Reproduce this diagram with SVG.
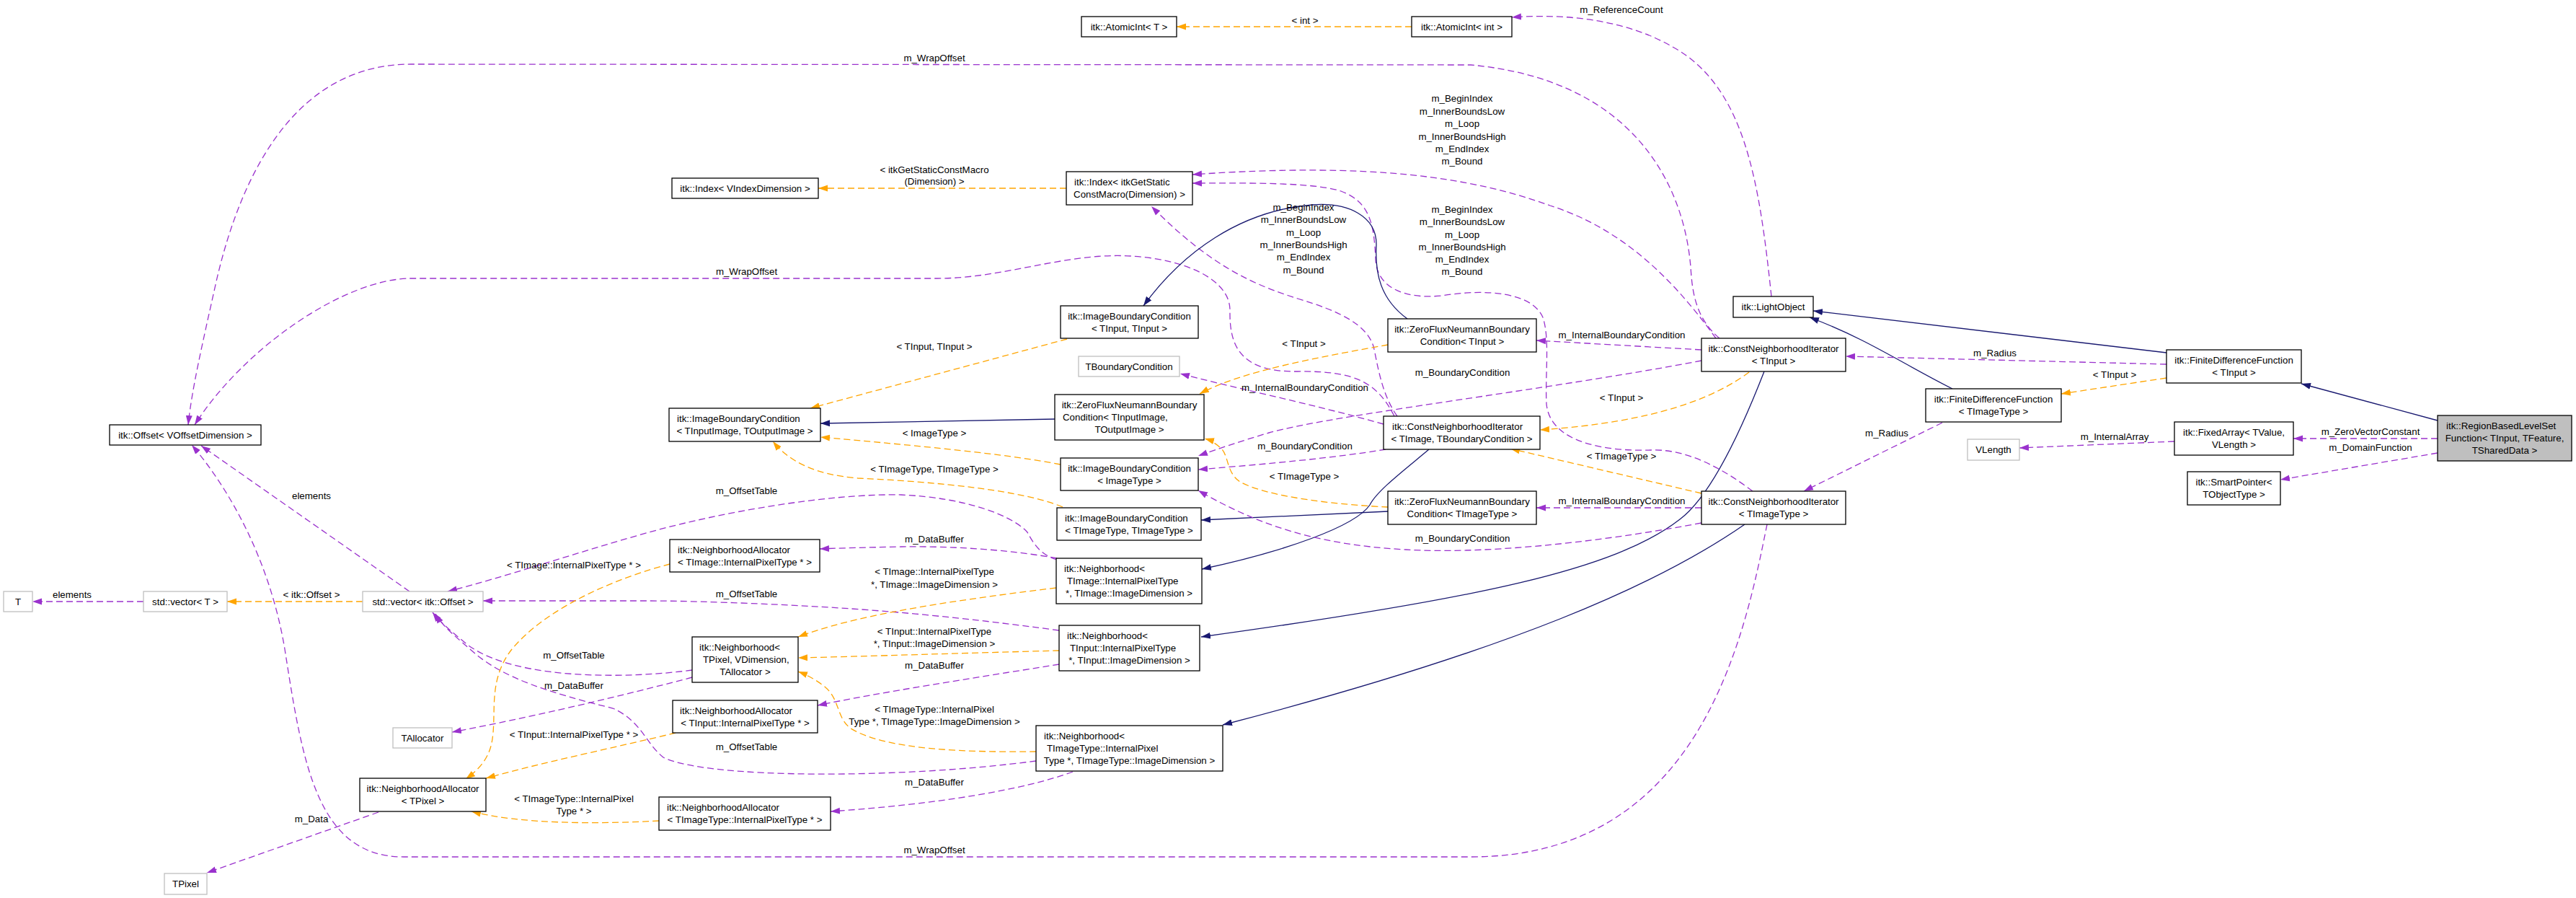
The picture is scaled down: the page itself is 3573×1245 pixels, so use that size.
<svg xmlns="http://www.w3.org/2000/svg" width="3573" height="1245" viewBox="0 0 3573 1245">
<defs>
<style>
text{font-family:"Liberation Sans",Arial,sans-serif;font-size:13.3px;fill:#000}
.c{text-anchor:middle}
.n rect{fill:#fff;stroke:#000;stroke-width:1.3}
.g rect{fill:#fff;stroke:#bfbfbf;stroke-width:1.3}
.hl rect{fill:#bfbfbf}
.e path{fill:none;stroke-width:1.3}
.p{stroke:#9a32cd;stroke-dasharray:9 5;marker-end:url(#ap)}
.o{stroke:#ffa500;stroke-dasharray:9 5;marker-end:url(#ao)}
.b{stroke:#191970;marker-end:url(#ab)}
</style>
<marker id="ap" markerWidth="14" markerHeight="10" refX="13" refY="5" orient="auto" markerUnits="userSpaceOnUse"><path d="M0,0.5 L13,5 L0,9.5z" fill="#9a32cd"/></marker>
<marker id="ao" markerWidth="14" markerHeight="10" refX="13" refY="5" orient="auto" markerUnits="userSpaceOnUse"><path d="M0,0.5 L13,5 L0,9.5z" fill="#ffa500"/></marker>
<marker id="ab" markerWidth="14" markerHeight="10" refX="13" refY="5" orient="auto" markerUnits="userSpaceOnUse"><path d="M0,0.5 L13,5 L0,9.5z" fill="#191970"/></marker>
</defs>
<rect width="3573" height="1245" fill="#fff"/>
<g id="connectors" class="e">
<path class="o" d="M1958,37 L1632,37"/>
<path class="p" d="M2457,411 C2440,250 2420,120 2320,65 C2260,30 2180,18 2097,24"/>
<path class="p" d="M2385,469 C2350,440 2347,400 2345,370 C2335,250 2260,110 2040,90 L570,89 C400,89 330,260 300,390 C280,480 266,540 261,589"/>
<path class="p" d="M1934,577 C1910,530 1880,514 1800,515 C1720,516 1705,480 1706,430 C1706,380 1620,350 1530,355 C1450,360 1380,386 1300,386 L570,386 C480,386 340,480 270,589"/>
<path class="p" d="M2451,727 C2420,880 2360,1188 2040,1188 L560,1188 C440,1188 420,1060 395,900 C375,780 320,680 266,617"/>
<path class="p" d="M568,820 L279,618"/>
<path class="o" d="M503,834 L315,834"/>
<path class="p" d="M199,834 L45,834"/>
<path class="p" d="M525,1126 L287,1210"/>
<path class="p" d="M960,929 C880,940 720,945 650,895 C625,875 610,862 600,849"/>
<path class="p" d="M960,939 C900,955 760,990 627,1015"/>
<path class="p" d="M1437,1055 C1250,1080 980,1080 920,1050 C895,1030 890,1000 850,982 C760,960 700,940 660,907 C635,885 615,870 604,851"/>
<path class="p" d="M1466,776 C1440,768 1432,750 1425,738 C1405,715 1340,690 1250,686 C1150,684 1000,710 900,738 C800,766 700,800 621,820"/>
<path class="p" d="M1469,874 C1350,858 1250,848 1150,842 C1050,836 950,833 900,833 L670,833"/>
<path class="o" d="M929,782 C860,800 760,840 710,900 C675,945 690,990 682,1030 C677,1055 660,1070 646,1080"/>
<path class="o" d="M937,1016 C860,1035 760,1055 674,1079"/>
<path class="o" d="M914,1138 C820,1143 720,1142 654,1125"/>
<path class="o" d="M1465,815 C1300,835 1180,855 1107,883"/>
<path class="o" d="M1469,902 C1350,905 1200,910 1107,912"/>
<path class="o" d="M1437,1042 C1340,1043 1230,1040 1180,1010 C1160,995 1165,970 1145,953 C1133,943 1120,936 1107,931"/>
<path class="p" d="M1466,774 C1400,762 1320,757 1250,758 C1200,759 1160,760 1137,761"/>
<path class="p" d="M1469,921 C1350,940 1220,960 1134,978"/>
<path class="p" d="M1488,1070 C1420,1095 1300,1115 1152,1125"/>
<path class="o" d="M1479,261 L1135,261"/>
<path class="p" d="M2380,469 C2330,400 2260,320 2150,285 C2040,245 1900,225 1654,242"/>
<path class="p" d="M2431,681 C2390,650 2340,622 2290,624 C2230,626 2150,615 2145,560 C2143,520 2150,470 2140,440 C2125,405 2060,400 2000,410 C1950,415 1910,400 1908,360 C1906,310 1900,280 1860,265 C1820,252 1720,254 1654,254"/>
<path class="p" d="M1938,577 C1915,545 1910,500 1905,480 C1895,450 1860,432 1800,414 C1740,395 1680,370 1597,286"/>
<path class="b" d="M1952,442 C1915,415 1907,380 1909,340 C1910,300 1870,280 1820,284 C1720,292 1640,350 1586,424"/>
<path class="b" d="M1463,581 L1138,587"/>
<path class="b" d="M1925,709 L1666,721"/>
<path class="b" d="M1982,623 C1950,650 1910,680 1900,700 C1880,730 1780,765 1667,789"/>
<path class="b" d="M2447,515 C2410,610 2370,690 2330,720 C2240,790 2050,830 1666,883"/>
<path class="b" d="M2420,727 C2300,810 2100,900 1696,1005"/>
<path class="b" d="M3005,489 L2515,431"/>
<path class="b" d="M2708,539 C2640,505 2590,470 2510,440"/>
<path class="b" d="M3381,583 L3192,532"/>
<path class="o" d="M1925,478 C1830,495 1720,515 1664,546"/>
<path class="o" d="M1925,703 C1860,700 1760,690 1720,668 C1700,655 1705,630 1692,620 C1685,614 1678,610 1671,608"/>
<path class="o" d="M1480,470 L1124,566"/>
<path class="o" d="M1471,644 C1410,632 1320,622 1138,606"/>
<path class="o" d="M1474,703 C1420,680 1300,668 1190,663 C1130,658 1095,640 1072,612"/>
<path class="o" d="M2426,516 C2380,550 2300,585 2136,596"/>
<path class="o" d="M2360,684 L2095,622"/>
<path class="o" d="M3005,524 L2859,546"/>
<path class="p" d="M2360,485 L2131,472"/>
<path class="p" d="M2360,500 C2150,540 1850,575 1760,600 C1720,612 1690,622 1662,632"/>
<path class="p" d="M1919,588 C1820,560 1700,535 1637,518"/>
<path class="p" d="M1922,623 C1850,635 1760,643 1662,651"/>
<path class="p" d="M2360,725 C2200,755 2050,768 1950,762 C1820,755 1740,725 1662,680"/>
<path class="p" d="M2360,704 L2131,704"/>
<path class="p" d="M3005,505 L2560,494"/>
<path class="p" d="M2694,586 L2502,681"/>
<path class="p" d="M3381,608 L3181,608"/>
<path class="p" d="M3381,628 L3163,665"/>
<path class="p" d="M3016,612 L2801,621"/>
<g class="c">
<text x="1810" y="32.5">&lt; int &gt;</text>
<text x="2249" y="17.5">m_ReferenceCount</text>
<text x="1296" y="84.5">m_WrapOffset</text>
<text x="1035.5" y="380.5">m_WrapOffset</text>
<text x="1296" y="1182.5">m_WrapOffset</text>
<text x="432" y="691.5">elements</text>
<text x="432" y="828.5">&lt; itk::Offset &gt;</text>
<text x="100" y="828.5">elements</text>
<text x="432" y="1139.5">m_Data</text>
<text x="796" y="913">m_OffsetTable</text>
<text x="796" y="955">m_DataBuffer</text>
<text x="1035.5" y="1040">m_OffsetTable</text>
<text x="1035.5" y="685">m_OffsetTable</text>
<text x="1035.5" y="828">m_OffsetTable</text>
<text x="796" y="788">&lt; TImage::InternalPixelType * &gt;</text>
<text x="796" y="1023">&lt; TInput::InternalPixelType * &gt;</text>
<text x="796" y="1111.5">&lt; TImageType::InternalPixel</text>
<text x="796" y="1129">Type * &gt;</text>
<text x="1296" y="797">&lt; TImage::InternalPixelType</text>
<text x="1296" y="815">*, TImage::ImageDimension &gt;</text>
<text x="1296" y="880">&lt; TInput::InternalPixelType</text>
<text x="1296" y="897">*, TInput::ImageDimension &gt;</text>
<text x="1296" y="988">&lt; TImageType::InternalPixel</text>
<text x="1296" y="1005">Type *, TImageType::ImageDimension &gt;</text>
<text x="1296" y="752">m_DataBuffer</text>
<text x="1296" y="927">m_DataBuffer</text>
<text x="1296" y="1089">m_DataBuffer</text>
<text x="1296" y="239.5">&lt; itkGetStaticConstMacro</text>
<text x="1296" y="256">(Dimension) &gt;</text>
<text x="2028" y="141">m_BeginIndex</text>
<text x="2028" y="159">m_InnerBoundsLow</text>
<text x="2028" y="176">m_Loop</text>
<text x="2028" y="193.5">m_InnerBoundsHigh</text>
<text x="2028" y="211">m_EndIndex</text>
<text x="2028" y="228">m_Bound</text>
<text x="2028" y="295">m_BeginIndex</text>
<text x="2028" y="312">m_InnerBoundsLow</text>
<text x="2028" y="329.5">m_Loop</text>
<text x="2028" y="347">m_InnerBoundsHigh</text>
<text x="2028" y="364">m_EndIndex</text>
<text x="2028" y="381">m_Bound</text>
<text x="1808" y="292">m_BeginIndex</text>
<text x="1808" y="309">m_InnerBoundsLow</text>
<text x="1808" y="327">m_Loop</text>
<text x="1808" y="344">m_InnerBoundsHigh</text>
<text x="1808" y="361">m_EndIndex</text>
<text x="1808" y="379">m_Bound</text>
<text x="1296" y="484.5">&lt; TInput, TInput &gt;</text>
<text x="1296" y="604.5">&lt; ImageType &gt;</text>
<text x="1296" y="655">&lt; TImageType, TImageType &gt;</text>
<text x="1808.5" y="480.5">&lt; TInput &gt;</text>
<text x="1809" y="665">&lt; TImageType &gt;</text>
<text x="2249" y="555.5">&lt; TInput &gt;</text>
<text x="2249" y="636.5">&lt; TImageType &gt;</text>
<text x="2933" y="523.5">&lt; TInput &gt;</text>
<text x="2249.5" y="469">m_InternalBoundaryCondition</text>
<text x="2028.5" y="521">m_BoundaryCondition</text>
<text x="1810" y="541.5">m_InternalBoundaryCondition</text>
<text x="1810" y="622.5">m_BoundaryCondition</text>
<text x="2028.5" y="751">m_BoundaryCondition</text>
<text x="2249.5" y="699">m_InternalBoundaryCondition</text>
<text x="2767" y="493.5">m_Radius</text>
<text x="2617" y="605">m_Radius</text>
<text x="3288" y="603">m_ZeroVectorConstant</text>
<text x="3288" y="625">m_DomainFunction</text>
<text x="2933" y="609.5">m_InternalArray</text>
</g>
</g>
<g id="n_atomicT" class="n"><rect x="1500" y="23" width="132" height="28"/><text class="c" x="1566" y="41.5">itk::AtomicInt&lt; T &gt;</text></g>
<g id="n_atomicInt" class="n"><rect x="1958" y="23" width="139" height="28"/><text class="c" x="2027.5" y="41.5">itk::AtomicInt&lt; int &gt;</text></g>
<g id="n_indexV" class="n"><rect x="932" y="247" width="203" height="28"/><text class="c" x="1033.5" y="265.5">itk::Index&lt; VIndexDimension &gt;</text></g>
<g id="n_indexG" class="n"><rect x="1479" y="238" width="175" height="46"/><text x="1490" y="256.5">itk::Index&lt; itkGetStatic</text><text class="c" x="1566.5" y="273.5">ConstMacro(Dimension) &gt;</text></g>
<g id="n_light" class="n"><rect x="2404" y="411" width="111" height="29"/><text class="c" x="2459.5" y="430">itk::LightObject</text></g>
<g id="n_ibcTI" class="n"><rect x="1471" y="424" width="191" height="45"/><text class="c" x="1566.5" y="442.5">itk::ImageBoundaryCondition</text><text class="c" x="1566.5" y="459.5">&lt; TInput, TInput &gt;</text></g>
<g id="n_zfTI" class="n"><rect x="1925" y="442" width="206" height="46"/><text class="c" x="2028" y="460.5">itk::ZeroFluxNeumannBoundary</text><text class="c" x="2028" y="477.5">Condition&lt; TInput &gt;</text></g>
<g id="n_cniTI" class="n"><rect x="2360" y="469" width="200" height="46"/><text class="c" x="2460" y="487.5">itk::ConstNeighborhoodIterator</text><text class="c" x="2460" y="504.5">&lt; TInput &gt;</text></g>
<g id="n_fdfTI" class="n"><rect x="3005" y="485" width="187" height="46"/><text class="c" x="3098.5" y="503.5">itk::FiniteDifferenceFunction</text><text class="c" x="3098.5" y="520.5">&lt; TInput &gt;</text></g>
<g id="n_tbc" class="g"><rect x="1496" y="494" width="140" height="28"/><text class="c" x="1566" y="512.5">TBoundaryCondition</text></g>
<g id="n_zfII" class="n"><rect x="1463" y="547" width="207" height="63"/><text class="c" x="1566.5" y="565.5">itk::ZeroFluxNeumannBoundary</text><text x="1474" y="582.5">Condition&lt; TInputImage,</text><text class="c" x="1566.5" y="599.5">TOutputImage &gt;</text></g>
<g id="n_ibcII" class="n"><rect x="928" y="566" width="210" height="46"/><text x="939" y="584.5">itk::ImageBoundaryCondition</text><text class="c" x="1033" y="601.5">&lt; TInputImage, TOutputImage &gt;</text></g>
<g id="n_offset" class="n"><rect x="152" y="589" width="210" height="28"/><text class="c" x="257" y="607.5">itk::Offset&lt; VOffsetDimension &gt;</text></g>
<g id="n_cniTB" class="n"><rect x="1919" y="577" width="217" height="46"/><text x="1931" y="595.5">itk::ConstNeighborhoodIterator</text><text class="c" x="2027.5" y="612.5">&lt; TImage, TBoundaryCondition &gt;</text></g>
<g id="n_fdfTT" class="n"><rect x="2671" y="539" width="188" height="46"/><text class="c" x="2765" y="557.5">itk::FiniteDifferenceFunction</text><text class="c" x="2765" y="574.5">&lt; TImageType &gt;</text></g>
<g id="n_rb" class="n hl"><rect x="3381" y="576" width="186" height="63"/><text x="3393" y="594.5">itk::RegionBasedLevelSet</text><text class="c" x="3474" y="611.5">Function&lt; TInput, TFeature,</text><text class="c" x="3474" y="628.5">TSharedData &gt;</text></g>
<g id="n_fixed" class="n"><rect x="3016" y="585" width="165" height="46"/><text class="c" x="3098.5" y="603.5">itk::FixedArray&lt; TValue,</text><text class="c" x="3098.5" y="620.5">VLength &gt;</text></g>
<g id="n_vlen" class="g"><rect x="2729" y="609" width="72" height="29"/><text class="c" x="2765" y="628">VLength</text></g>
<g id="n_smart" class="n"><rect x="3034" y="654" width="129" height="46"/><text class="c" x="3098.5" y="672.5">itk::SmartPointer&lt;</text><text class="c" x="3098.5" y="689.5">TObjectType &gt;</text></g>
<g id="n_ibcIT" class="n"><rect x="1471" y="635" width="191" height="45"/><text class="c" x="1566.5" y="653.5">itk::ImageBoundaryCondition</text><text class="c" x="1566.5" y="670.5">&lt; ImageType &gt;</text></g>
<g id="n_zfTT" class="n"><rect x="1925" y="681" width="206" height="46"/><text class="c" x="2028" y="699.5">itk::ZeroFluxNeumannBoundary</text><text class="c" x="2028" y="716.5">Condition&lt; TImageType &gt;</text></g>
<g id="n_cniTT" class="n"><rect x="2360" y="681" width="200" height="46"/><text class="c" x="2460" y="699.5">itk::ConstNeighborhoodIterator</text><text class="c" x="2460" y="716.5">&lt; TImageType &gt;</text></g>
<g id="n_ibcTT" class="n"><rect x="1466" y="704" width="200" height="45"/><text x="1477" y="722.5">itk::ImageBoundaryCondition</text><text class="c" x="1566" y="739.5">&lt; TImageType, TImageType &gt;</text></g>
<g id="n_naTI" class="n"><rect x="929" y="748" width="208" height="45"/><text x="940" y="766.5">itk::NeighborhoodAllocator</text><text class="c" x="1033" y="783.5">&lt; TImage::InternalPixelType * &gt;</text></g>
<g id="n_nbTI" class="n"><rect x="1465" y="774" width="202" height="63"/><text x="1476" y="792.5">itk::Neighborhood&lt;</text><text x="1480" y="809.5">TImage::InternalPixelType</text><text class="c" x="1566" y="826.5">*, TImage::ImageDimension &gt;</text></g>
<g id="n_T" class="g"><rect x="5" y="820" width="40" height="28"/><text class="c" x="25" y="838.5">T</text></g>
<g id="n_vecT" class="g"><rect x="199" y="820" width="116" height="28"/><text class="c" x="257" y="838.5">std::vector&lt; T &gt;</text></g>
<g id="n_vecO" class="g"><rect x="503" y="820" width="167" height="28"/><text class="c" x="586.5" y="838.5">std::vector&lt; itk::Offset &gt;</text></g>
<g id="n_nbTP" class="n"><rect x="960" y="883" width="147" height="63"/><text x="970" y="901.5">itk::Neighborhood&lt;</text><text x="975" y="918.5">TPixel, VDimension,</text><text class="c" x="1033.5" y="935.5">TAllocator &gt;</text></g>
<g id="n_nbIn" class="n"><rect x="1469" y="867" width="195" height="63"/><text x="1480" y="885.5">itk::Neighborhood&lt;</text><text x="1484" y="902.5">TInput::InternalPixelType</text><text class="c" x="1566.5" y="919.5">*, TInput::ImageDimension &gt;</text></g>
<g id="n_talloc" class="g"><rect x="545" y="1009" width="82" height="28"/><text class="c" x="586" y="1027.5">TAllocator</text></g>
<g id="n_naIn" class="n"><rect x="933" y="971" width="201" height="45"/><text x="943" y="989.5">itk::NeighborhoodAllocator</text><text class="c" x="1033.5" y="1006.5">&lt; TInput::InternalPixelType * &gt;</text></g>
<g id="n_naTP" class="n"><rect x="499" y="1079" width="175" height="46"/><text class="c" x="586.5" y="1097.5">itk::NeighborhoodAllocator</text><text class="c" x="586.5" y="1114.5">&lt; TPixel &gt;</text></g>
<g id="n_nbTT" class="n"><rect x="1437" y="1006" width="259" height="63"/><text x="1448" y="1024.5">itk::Neighborhood&lt;</text><text x="1452" y="1041.5">TImageType::InternalPixel</text><text class="c" x="1566.5" y="1058.5">Type *, TImageType::ImageDimension &gt;</text></g>
<g id="n_naTT" class="n"><rect x="914" y="1105" width="238" height="46"/><text x="925" y="1123.5">itk::NeighborhoodAllocator</text><text class="c" x="1033" y="1140.5">&lt; TImageType::InternalPixelType * &gt;</text></g>
<g id="n_tpixel" class="g"><rect x="228" y="1211" width="59" height="29"/><text class="c" x="257.5" y="1230">TPixel</text></g>
</svg>
